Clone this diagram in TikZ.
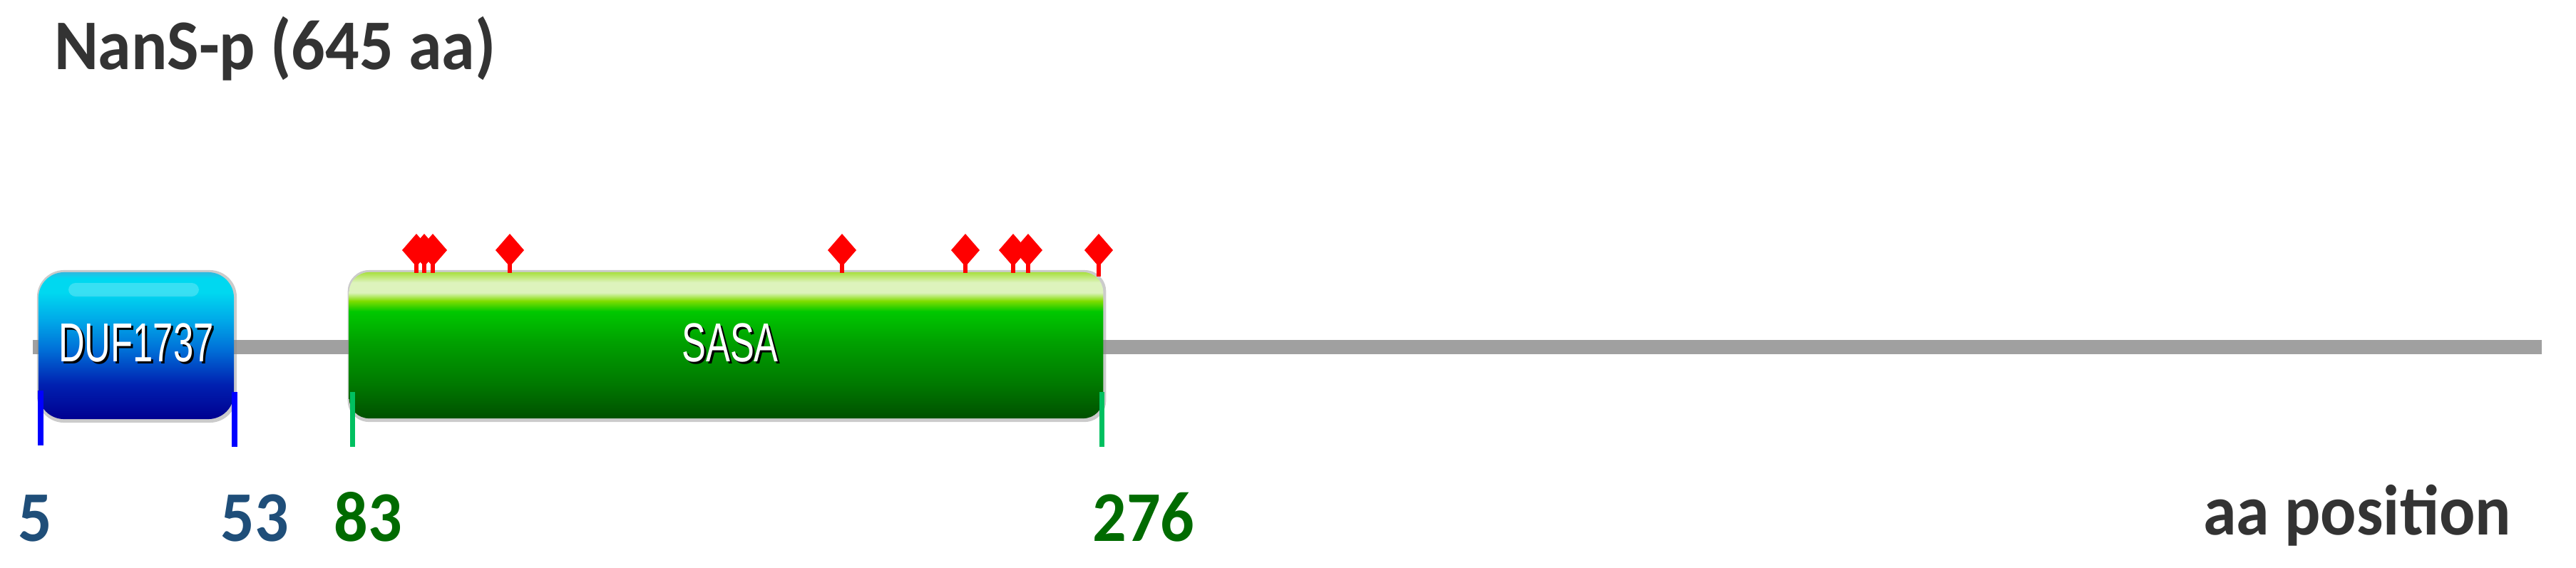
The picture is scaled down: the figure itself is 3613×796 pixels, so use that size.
\documentclass[tikz,border=0pt]{standalone}
\usepackage{fontspec}
\usepackage{graphicx}
\newfontfamily\carlito{Carlito}
\newfontfamily\libsans{Liberation Sans}
\usetikzlibrary{calc}
\definecolor{titlegray}{HTML}{333333}
\definecolor{navylab}{HTML}{1F4E79}
\definecolor{greenlab}{HTML}{006B00}
\definecolor{backbonegray}{HTML}{A0A0A0}
\definecolor{tickblue}{HTML}{0000FF}
\definecolor{tickgreen}{HTML}{00C060}
\definecolor{motifred}{HTML}{FF0000}
% SASA colours
\definecolor{sasaBot}{HTML}{005000}
\definecolor{sasaD}{HTML}{007800}
\definecolor{sasaM}{HTML}{00A000}
\definecolor{sasaBright}{HTML}{00C800}
\definecolor{sasaYG}{HTML}{80DD00}
\definecolor{sasaHi}{HTML}{DDF3BC}
\definecolor{sasaEdge}{HTML}{A8E040}
% DUF colours
\definecolor{dufBot}{HTML}{000090}
\definecolor{dufD}{HTML}{0020B0}
\definecolor{dufM}{HTML}{0070D8}
\definecolor{dufL}{HTML}{00A8E8}
\definecolor{dufC}{HTML}{00D8F0}
\definecolor{dufEdge}{HTML}{30B8E0}
\pgfdeclareverticalshading{sasashade}{100bp}{color(0bp)=(sasaBot); color(25bp)=(sasaBot); color(36.5bp)=(sasaD); color(51bp)=(sasaM); color(61.6bp)=(sasaBright); color(65.2bp)=(sasaYG); color(68bp)=(sasaHi); color(71.5bp)=(sasaHi); color(75bp)=(sasaEdge); color(100bp)=(sasaEdge)}
\pgfdeclareverticalshading{dufshade}{100bp}{color(0bp)=(dufBot); color(25bp)=(dufBot); color(36.7bp)=(dufD); color(48.8bp)=(dufM); color(58.5bp)=(dufL); color(68.2bp)=(dufC); color(73bp)=(dufC); color(75bp)=(dufEdge); color(100bp)=(dufEdge)}
\newcommand{\sqz}[1]{\scalebox{0.94}[1]{#1}}
\newcommand{\sqd}[1]{\scalebox{0.66}[1]{#1}}
\begin{document}
\begin{tikzpicture}[x=0.01cm,y=-0.01cm,
  boldtext/.style={inner sep=0pt, outer sep=0pt, font=\carlito\bfseries\fontsize{28.45pt}{30pt}\selectfont},
  numlab/.style={boldtext, anchor=base},
  domtext/.style={inner sep=0pt, outer sep=0pt, text=white, font=\libsans\fontsize{21.9pt}{22pt}\selectfont},
  domshadow/.style={domtext, text=black},
  boxshadow/.style={fill=black!45, opacity=0.45, inner sep=0pt, outer sep=0pt},
  dombox/.style={shade, inner sep=0pt, outer sep=0pt},
  backbone/.style={line width=0.2cm, color=backbonegray},
  bluetick/.style={line width=0.08cm, color=tickblue},
  greentick/.style={line width=0.07cm, color=tickgreen},
  motif/.style={fill=motifred}]
\useasboundingbox (0,0) rectangle (3613,796);

% title
\node[boldtext, anchor=base west, text=titlegray] (title) at (76,97) {\sqz{NanS-p (645 aa)}};

% backbone
\coordinate (bbstart) at (46,487);
\coordinate (bbend) at (3565,487);
\draw[backbone] (bbstart) -- (bbend);

% DUF1737 domain
\node[boxshadow, rounded corners=0.38cm, minimum width=2.80cm, minimum height=2.14cm] (dufsh) at (192,486) {};
\node[dombox, shading=dufshade, rounded corners=0.36cm, minimum width=2.74cm, minimum height=2.06cm] (duf) at (191,485) {};
\fill[white, opacity=0.22, rounded corners=0.1cm] (96,397) rectangle (279,416);
\node[domshadow] (dufts) at (194,484) {\sqd{DUF1737}};
\node[domtext] (duftxt) at (191,481) {\sqd{DUF1737}};

% SASA domain
\node[boxshadow, rounded corners=0.3cm, minimum width=10.63cm, minimum height=2.13cm] (sasash) at (1019.5,485.5) {};
\node[dombox, shading=sasashade, rounded corners=0.28cm, minimum width=10.57cm, minimum height=2.05cm] (sasa) at (1018.5,484.5) {};
\node[domshadow] (sasats) at (1027,484) {\sqd{SASA}};
\node[domtext] (sasatxt) at (1024,481) {\sqd{SASA}};

% boundary ticks
\draw[bluetick] (57,548) -- (57,625);
\draw[bluetick] (329,550) -- (329,627);
\draw[greentick] (494,550) -- (494,627);
\draw[greentick] (1545,550) -- (1545,627);

% motif markers
\foreach \mx/\sb in {584/383,595/383,607/383,715/383,1181/383,1354/383,1421/383,1442/383,1541/388}{
  \fill[motif] (\mx-3,368) rectangle (\mx+3,\sb);
  \fill[motif] (\mx,328) -- (\mx+20,351) -- (\mx,374) -- (\mx-20,351) -- cycle;
}

% position labels
\node[numlab, text=navylab] (l5) at (49,759) {\sqz{5}};
\node[numlab, text=navylab] (l53) at (357,759) {\sqz{53}};
\node[numlab, text=greenlab] (l83) at (516,759) {\sqz{83}};
\node[numlab, text=greenlab] (l276) at (1604,759) {\sqz{276}};
\node[numlab, text=titlegray] (aapos) at (3306,750) {\sqz{aa position}};
\end{tikzpicture}
\end{document}
